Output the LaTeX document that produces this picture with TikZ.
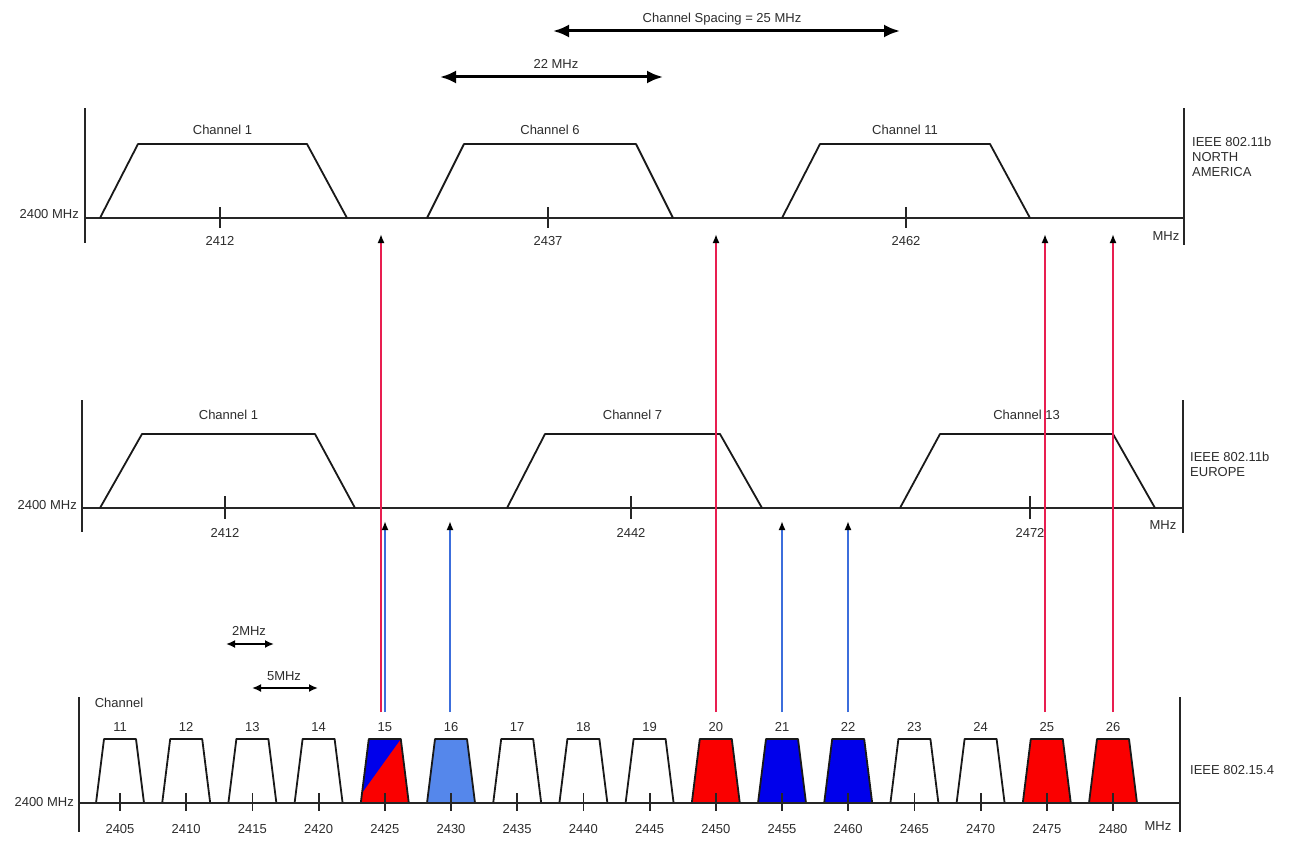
\documentclass[tikz,border=0pt]{standalone}
\usepackage{fontspec}
\setmainfont{Liberation Sans}
\usetikzlibrary{arrows.meta}
\definecolor{lred}{RGB}{232,30,80}
\definecolor{lblue}{RGB}{60,110,220}
\definecolor{fred}{RGB}{250,0,0}
\definecolor{fblue}{RGB}{0,0,235}
\definecolor{flblue}{RGB}{85,135,235}
\definecolor{txt}{RGB}{45,45,45}
\newcommand\smalltrap[2]{%
  \fill[#2] ({#1-24},803) -- ({#1-16},739) -- ({#1+16},739) -- ({#1+24},803) -- cycle;
  \draw[trap] ({#1-24},803) -- ({#1-16},739) -- ({#1+16},739) -- ({#1+24},803);}
\begin{document}
\begin{tikzpicture}[x={(1pt,0pt)},y={(0pt,-1pt)},
  font=\fontsize{13}{15}\selectfont,
  axis/.style={line width=2.3pt, draw=black!85},
  trap/.style={line width=1.8pt, draw=black!90, line join=round},
  tickmark/.style={line width=1.8pt, draw=black!85},
  lbl/.style={text=txt, inner sep=0pt},
  bigdbl/.style={line width=3pt, {Latex[length=16pt,width=13pt]}-{Latex[length=16pt,width=13pt]}},
  smalldbl/.style={line width=1.8pt, {Latex[length=9pt,width=8pt]}-{Latex[length=9pt,width=8pt]}},
  redarr/.style={line width=2pt, draw=lred, -{Latex[color=black,length=9pt,width=7pt]}},
  bluearr/.style={line width=2pt, draw=lblue, -{Latex[color=black,length=9pt,width=7pt]}}]
\useasboundingbox (0,0) rectangle (1294,851);
\fill[white] (0,0) rectangle (1294,851);

% ---------- top arrows
\coordinate (csl) at (553,31); \coordinate (csr) at (900,31);
\draw[bigdbl] (csl) -- (csr);
\node[lbl] (cslab) at (722,19) {Channel Spacing = 25 MHz};
\coordinate (wl) at (440,77); \coordinate (wr) at (663,77);
\draw[bigdbl] (wl) -- (wr);
\node[lbl] (wlab) at (556,64) {22 MHz};

% ---------- top panel (North America)
\coordinate (a1l) at (85,108); \coordinate (a1b) at (85,243);
\coordinate (a1s) at (85,218); \coordinate (a1e) at (1184,218);
\coordinate (a1rt) at (1184,108); \coordinate (a1rb) at (1184,245);
\draw[axis] (a1l) -- (a1b);
\draw[axis] (a1rt) -- (a1rb);
\draw[axis] (a1s) -- (a1e);
\node[lbl, anchor=east] (na2400) at (79,214) {2400 MHz};
\node[lbl] (namhz) at (1166,236) {MHz};
\node[lbl, align=left, anchor=north west] (nalab) at (1192,137) {IEEE 802.11b\\NORTH\\AMERICA};
\foreach \bl/\tl/\tr/\br/\c/\f/\n in {100/138/307/347/220/2412/1, 427/464/636/673/548/2437/6, 782/820/990/1030/906/2462/11}{
  \draw[trap] (\bl,218) -- (\tl,144) -- (\tr,144) -- (\br,218);
  \draw[tickmark] (\c,207) -- (\c,228);
  \node[lbl] (naf\n) at (\c,241) {\f};
  \node[lbl] (nach\n) at ({(\tl+\tr)/2},130) {Channel \n};
}

% ---------- middle panel (Europe)
\coordinate (a2l) at (82,400); \coordinate (a2b) at (82,532);
\coordinate (a2s) at (82,508); \coordinate (a2e) at (1183,508);
\coordinate (a2rt) at (1183,400); \coordinate (a2rb) at (1183,533);
\draw[axis] (a2l) -- (a2b);
\draw[axis] (a2rt) -- (a2rb);
\draw[axis] (a2s) -- (a2e);
\node[lbl, anchor=east] (eu2400) at (77,505) {2400 MHz};
\node[lbl] (eumhz) at (1163,525) {MHz};
\node[lbl, align=left, anchor=north west] (eulab) at (1190,452) {IEEE 802.11b\\EUROPE};
\foreach \bl/\tl/\tr/\br/\c/\f/\n in {100/142/315/355/225/2412/1, 507/545/720/762/631/2442/7, 900/940/1113/1155/1030/2472/13}{
  \draw[trap] (\bl,508) -- (\tl,434) -- (\tr,434) -- (\br,508);
  \draw[tickmark] (\c,496) -- (\c,519);
  \node[lbl] (euf\n) at (\c,533) {\f};
  \node[lbl] (euch\n) at ({(\tl+\tr)/2},415) {Channel \n};
}

% ---------- bottom panel (802.15.4)
\coordinate (a3l) at (79,697); \coordinate (a3b) at (79,832);
\coordinate (a3s) at (79,803); \coordinate (a3e) at (1180,803);
\coordinate (a3rt) at (1180,697); \coordinate (a3rb) at (1180,832);
\node[lbl, anchor=east] (zb2400) at (74,802) {2400 MHz};
\node[lbl] (zbmhz) at (1158,826) {MHz};
\node[lbl, anchor=west] (zblab) at (1190,770) {IEEE 802.15.4};
\node[lbl] (zbchan) at (119,703) {Channel};

\foreach \k in {0,...,15}{
  \pgfmathsetmacro\cx{120+66.2*\k}
  \pgfmathtruncatemacro\ch{11+\k}
  \pgfmathtruncatemacro\fq{2405+5*\k}
  \ifnum\k=4
    \fill[fred] ({\cx-24},803) -- ({\cx-16},739) -- ({\cx+16},739) -- ({\cx+24},803) -- cycle;
    \fill[fblue] ({\cx-16},739) -- ({\cx+16},739) -- ({\cx-22.8},793) -- cycle;
    \draw[trap] ({\cx-24},803) -- ({\cx-16},739) -- ({\cx+16},739) -- ({\cx+24},803);
  \else\ifnum\k=5
    \smalltrap{\cx}{flblue}
  \else\ifnum\k=9
    \smalltrap{\cx}{fred}
  \else\ifnum\k=10
    \smalltrap{\cx}{fblue}
  \else\ifnum\k=11
    \smalltrap{\cx}{fblue}
  \else\ifnum\k=14
    \smalltrap{\cx}{fred}
  \else\ifnum\k=15
    \smalltrap{\cx}{fred}
  \else
    \smalltrap{\cx}{white}
  \fi\fi\fi\fi\fi\fi\fi
  \draw[tickmark] (\cx,793) -- (\cx,811);
  \node[lbl] (zbf\k) at (\cx,829) {\fq};
  \node[lbl] (zbn\k) at (\cx,727) {\ch};
}
\draw[axis] (a3l) -- (a3b);
\draw[axis] (a3rt) -- (a3rb);
\draw[axis] (a3s) -- (a3e);

% small width arrows
\coordinate (s2l) at (226,644); \coordinate (s2r) at (274,644);
\draw[smalldbl] (s2l) -- (s2r);
\node[lbl] (s2lab) at (249,631) {2MHz};
\coordinate (s5l) at (252,688); \coordinate (s5r) at (318,688);
\draw[smalldbl] (s5l) -- (s5r);
\node[lbl] (s5lab) at (284,676) {5MHz};

% ---------- vertical arrows
\foreach \x in {381,716,1045,1113}{
  \coordinate (rs\x) at (\x,712); \coordinate (re\x) at (\x,234);
  \draw[redarr] (rs\x) -- (re\x);
}
\foreach \x in {385,450,782,848}{
  \coordinate (bs\x) at (\x,712); \coordinate (be\x) at (\x,521);
  \draw[bluearr] (bs\x) -- (be\x);
}
\end{tikzpicture}
\end{document}
